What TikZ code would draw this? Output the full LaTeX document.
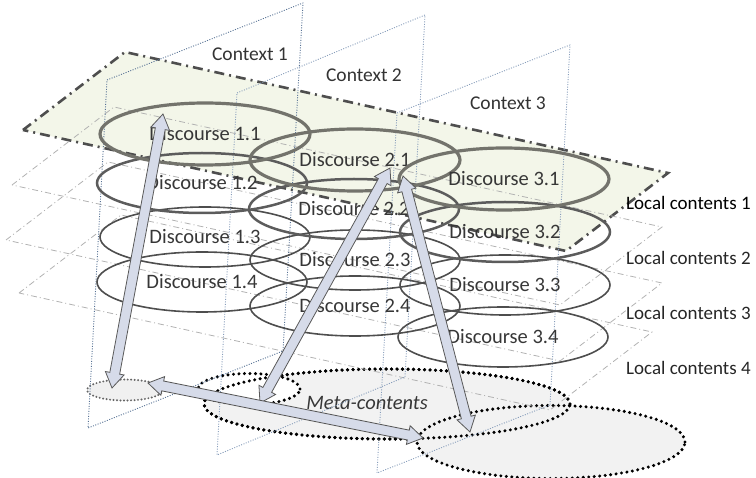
\documentclass[tikz,border=0pt]{standalone}
\usepackage{fontspec}
\setmainfont{Carlito}
\usepackage{xcolor}
\usepackage{tikz}
\usetikzlibrary{positioning,shapes.geometric,calc}

\definecolor{planegreen}{RGB}{243,246,233}
\definecolor{ctxblue}{RGB}{95,125,165}
\definecolor{arrowfill}{RGB}{214,219,233}
\definecolor{txtgrey}{RGB}{55,55,55}
\definecolor{ringone}{RGB}{115,115,108}
\definecolor{ringtwo}{RGB}{92,92,92}
\definecolor{ringlow}{RGB}{78,78,78}

\newcommand{\dblarrow}[2]{%
  \coordinate (#1-h) at ($(#1)!15pt!(#2)$);
  \coordinate (#2-h) at ($(#2)!15pt!(#1)$);
  \draw[bigarrow] (#1) -- ($(#1-h)!9.5pt!90:(#2)$) -- ($(#1-h)!5pt!90:(#2)$)
    -- ($(#2-h)!5pt!-90:(#1)$) -- ($(#2-h)!9.5pt!-90:(#1)$) -- (#2)
    -- ($(#2-h)!9.5pt!90:(#1)$) -- ($(#2-h)!5pt!90:(#1)$)
    -- ($(#1-h)!5pt!-90:(#2)$) -- ($(#1-h)!9.5pt!-90:(#2)$) -- cycle;}

\begin{document}
\begin{tikzpicture}[x=1pt, y=-1pt,
  disc/.style={ellipse, draw, inner sep=0pt, minimum width=210pt, minimum height=60pt, text=txtgrey, font=\fontsize{20.5}{22}\selectfont},
  discone/.style={disc, draw=ringone, line width=3.2pt, minimum height=62pt},
  disctwo/.style={disc, draw=ringtwo, line width=2.5pt},
  disclow/.style={disc, draw=ringlow, line width=1.6pt},
  metaring/.style={ellipse, inner sep=0pt, draw=black, line width=3.4pt, line cap=round, dash pattern=on 0pt off 5.5pt},
  ctxline/.style={draw=ctxblue, line width=0.9pt, dash pattern=on 1pt off 1.5pt},
  localone/.style={fill=planegreen, draw=ringlow, line width=2.6pt, dash pattern=on 10pt off 5pt on 2pt off 5pt},
  localline/.style={draw=gray!60, line width=0.8pt, dash pattern=on 6pt off 3pt on 1pt off 3pt},
  bigarrow/.style={fill=arrowfill, draw=black!65, line width=0.8pt, line join=miter},
  ctxlabel/.style={text=black!80, font=\fontsize{19.5}{21}\selectfont},
  loclabel/.style={anchor=west, inner sep=0pt, text=black!85, font=\fontsize{19}{21}\selectfont}]
\useasboundingbox (0,0) rectangle (756,478);

\node[metaring, fill=gray!10, minimum width=366pt, minimum height=70pt] (m2) at (387,404) {};
\node[metaring, fill=white, minimum width=102pt, minimum height=31pt] (m1) at (249,389) {};
\node[metaring, fill=gray!10, minimum width=268pt, minimum height=73pt] (m3) at (551,442) {};
\node[metaring, minimum width=366pt, minimum height=70pt] (m2o) at (387,404) {};
\node[metaring, draw=black!60, line width=2.2pt, dash pattern=on 0pt off 3.5pt, fill=gray!12, minimum width=76pt, minimum height=21pt] (m0) at (125,390) {};
\node[text=txtgrey, font=\fontsize{20.5}{22}\selectfont\itshape] (meta) at (367,403) {Meta-contents};

\draw[localone] (23,130) -- (125,52) -- (668,173) -- (566,251) -- cycle;
\draw[localline] (12,185) -- (114,107) -- (662,227) -- (560,305) -- cycle;
\draw[localline] (6,240) -- (108,162) -- (662,283) -- (560,361) -- cycle;
\draw[localline] (19,293) -- (121,215) -- (652,332) -- (550,410) -- cycle;

\draw[ctxline, draw=ctxblue!90!black] (107,80) -- (303,3) -- (283,351) -- (88,428) -- cycle;
\draw[ctxline, draw=ctxblue!75] (237,93) -- (425,15) -- (405,377) -- (217,455) -- cycle;
\draw[ctxline, draw=ctxblue!75] (397,113) -- (570,45) -- (550,405) -- (377,473) -- cycle;

\node[ctxlabel] (c1) at (250,54) {Context 1};
\node[ctxlabel] (c2) at (364,75) {Context 2};
\node[ctxlabel] (c3) at (508,103) {Context 3};

\node[disclow] (d14) at (202,282) {Discourse 1.4};
\node[disclow] (d13) at (205,237) {Discourse 1.3};
\node[disctwo] (d12) at (202,183) {Discourse 1.2};
\node[discone] (d11) at (205,134) {Discourse 1.1};
\node[disclow] (d24) at (355,306) {Discourse 2.4};
\node[disclow] (d23) at (355,260) {Discourse 2.3};
\node[disctwo] (d22) at (354,209) {Discourse 2.2};
\node[discone] (d21) at (355,160) {Discourse 2.1};
\node[disclow] (d34) at (503,337) {Discourse 3.4};
\node[disclow] (d33) at (505,285) {Discourse 3.3};
\node[disctwo] (d32) at (505,232) {Discourse 3.2};
\node[discone] (d31) at (504,179) {Discourse 3.1};

\node[loclabel, text=black] (lc1) at (626,203) {Local contents 1};
\node[loclabel] (lc2) at (626,258) {Local contents 2};
\node[loclabel] (lc3) at (626,313) {Local contents 3};
\node[loclabel] (lc4) at (626,368) {Local contents 4};

\coordinate (a1s) at (163,114);
\coordinate (a1e) at (112,388);
\coordinate (a2s) at (390,168);
\coordinate (a2e) at (260,403);
\coordinate (a3s) at (403,176);
\coordinate (a3e) at (470,432);
\coordinate (a4s) at (148,383);
\coordinate (a4e) at (423,438);
\dblarrow{a1s}{a1e}
\dblarrow{a2s}{a2e}
\dblarrow{a3s}{a3e}
\dblarrow{a4s}{a4e}

\end{tikzpicture}
\end{document}
